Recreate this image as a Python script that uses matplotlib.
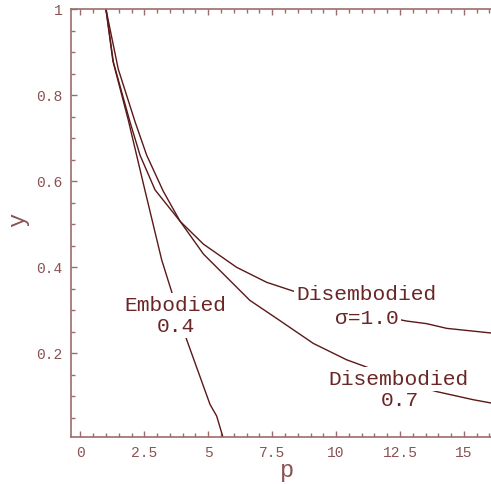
import matplotlib
matplotlib.use('Agg')
import matplotlib.pyplot as plt
from matplotlib.ticker import MultipleLocator

plt.rcParams['font.family'] = ['Liberation Mono', 'DejaVu Sans Mono']

# curves
emb_p = [1.0, 1.27, 1.87, 2.5, 3.18, 4.16, 5.07, 5.33, 5.6]
emb_y = [1.0, 0.88, 0.743, 0.585, 0.417, 0.231, 0.081, 0.054, 0.0]

s10_p = [1.0, 1.29, 1.94, 2.33, 2.92, 3.9, 4.81, 6.11, 7.29, 8.26, 9.5, 11.0, 12.76, 13.54, 14.33, 16.1]
s10_y = [1.0, 0.877, 0.738, 0.661, 0.58, 0.507, 0.454, 0.40, 0.365, 0.346, 0.322, 0.296, 0.275, 0.269, 0.258, 0.247]

s07_p = [1.0, 1.48, 2.14, 2.59, 3.24, 3.9, 4.81, 6.63, 7.68, 9.11, 10.41, 11.33, 12.5, 13.93, 15.37, 16.1]
s07_y = [1.0, 0.861, 0.738, 0.661, 0.577, 0.507, 0.431, 0.323, 0.281, 0.223, 0.185, 0.165, 0.135, 0.111, 0.092, 0.084]

xticks = [0, 2.5, 5, 7.5, 10, 12.5, 15]
xticklabels = ['0', '2.5', '5', '7.5', '10', '12.5', '15']
yticks = [0.2, 0.4, 0.6, 0.8, 1.0]
yticklabels = ['0.2', '0.4', '0.6', '0.8', '1']

labels = [('Embodied', 3.70, 0.312), ('0.4', 3.74, 0.263),
          ('Disembodied', 11.2, 0.336), ('\u03c3=1.0', 11.2, 0.282),
          ('Disembodied', 12.43, 0.140), ('0.7', 12.5, 0.090)]

line_c = '#5a1818'
axis_c = '#9c6c6c'
tick_c = '#8a5252'
text_c = '#6a2626'

fig = plt.figure(figsize=(4.91, 4.84), dpi=100)
ax = fig.add_axes([0.144, 0.0977, 0.856, 0.883])

for p, y in [(emb_p, emb_y), (s10_p, s10_y), (s07_p, s07_y)]:
    ax.plot(p, y, color=line_c, lw=1.0, zorder=2)

for txt, x, y in labels:
    ax.text(x, y, txt, ha='center', va='center', fontsize=15.3, color=text_c,
            bbox=dict(facecolor='white', edgecolor='none', pad=2), zorder=3)

ax.set_xlim(-0.38, 16.06)
ax.set_ylim(0.006, 1.0)

ax.set_xticks(xticks)
ax.set_xticklabels(xticklabels)
ax.set_yticks(yticks)
ax.set_yticklabels(yticklabels)
ax.xaxis.set_minor_locator(MultipleLocator(0.5))
ax.yaxis.set_minor_locator(MultipleLocator(0.05))

ax.tick_params(which='both', direction='in', color=axis_c, labelcolor=tick_c,
               labelsize=10.5, top=True, width=1.0)
ax.tick_params(which='major', length=4.5)
ax.tick_params(which='minor', length=3)
ax.tick_params(axis='x', pad=7)
ax.tick_params(axis='y', pad=6)

for s in ['top', 'bottom', 'left']:
    ax.spines[s].set_color(axis_c)
    ax.spines[s].set_linewidth(1.2)
ax.spines['right'].set_visible(False)

ax.set_xlabel('p', fontsize=17, color=tick_c, va='center')
ax.set_ylabel('y', fontsize=17, color=tick_c, va='center')
ax.xaxis.set_label_coords(0.514, -0.078)
ax.yaxis.set_label_coords(-0.125, 0.507)

fig.savefig('out.png', dpi=100)
